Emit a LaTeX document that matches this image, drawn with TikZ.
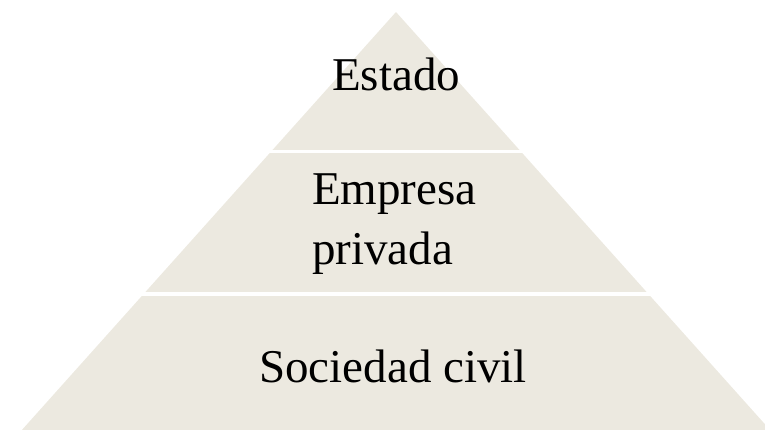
\documentclass[tikz,border=0pt]{standalone}
\usepackage{fontspec}
\setmainfont{Liberation Serif}
\definecolor{pyrfill}{RGB}{236,233,224}
\tikzset{
  lbl/.style={inner sep=0pt, anchor=base west, font=\fontsize{47}{54}\selectfont, text=black},
  gap/.style={draw=white, line width=3.3pt}
}
\begin{document}
\begin{tikzpicture}[x=1pt,y=-1pt]
\useasboundingbox (0,0) rectangle (765,430);
\clip (0,0) rectangle (765,430);
\coordinate (apex) at (396,12);
\coordinate (bl) at (396-0.895*422,434);
\coordinate (br) at (396+0.895*422,434);
\fill[pyrfill] (apex) -- (bl) -- (br) -- cycle;
\coordinate (g1l) at (0,151.7);
\coordinate (g1r) at (765,151.7);
\coordinate (g2l) at (0,294);
\coordinate (g2r) at (765,294);
\draw[gap] (g1l) -- (g1r);
\draw[gap] (g2l) -- (g2r);
\node[lbl] (estado) at (332,91) {Estado};
\node[lbl] (empresa) at (312,205) {Empresa};
\node[lbl] (privada) at (312,265) {privada};
\node[lbl] (sociedad) at (259,382) {Sociedad civil};
\end{tikzpicture}
\end{document}
